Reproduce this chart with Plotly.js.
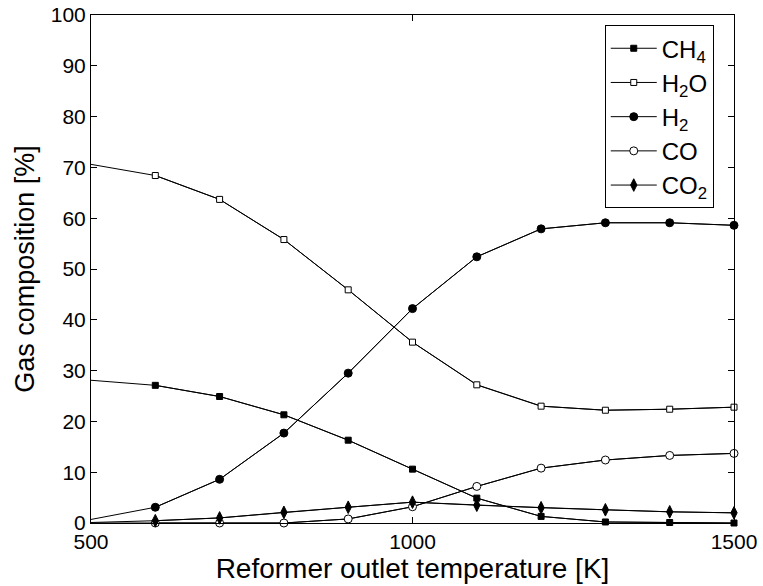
<!DOCTYPE html>
<html>
<head>
<meta charset="utf-8">
<script src="https://cdn.plot.ly/plotly-3.0.1.min.js"></script>
<style>html,body{margin:0;padding:0;background:#fff;}#chart{width:763px;height:586px;}</style>
</head>
<body>
<div id="chart"></div>
<script>
const temperature = [500, 600, 700, 800, 900, 1000, 1100, 1200, 1300, 1400, 1500];
const seriesNames = ['CH<sub>4</sub>', 'H<sub>2</sub>O', 'H<sub>2</sub>', 'CO', 'CO<sub>2</sub>'];
const ch4 = [28.1, 27.1, 24.9, 21.3, 16.3, 10.6, 4.9, 1.3, 0.2, 0.1, 0.0];
const h2o = [70.6, 68.4, 63.7, 55.8, 45.9, 35.6, 27.2, 23.0, 22.2, 22.4, 22.8];
const h2  = [0.7, 3.1, 8.6, 17.7, 29.5, 42.2, 52.4, 57.9, 59.1, 59.1, 58.6];
const co  = [0.0, 0.0, 0.0, 0.0, 0.8, 3.2, 7.2, 10.8, 12.4, 13.3, 13.7];
const co2 = [0.1, 0.45, 1.0, 2.1, 3.1, 4.1, 3.5, 3.0, 2.6, 2.2, 2.0];
const yTicks = [0, 10, 20, 30, 40, 50, 60, 70, 80, 90, 100];
const xTicks = [500, 1000, 1500];

const seriesValues = [ch4, h2o, h2, co, co2];
const markerStyles = [
  {symbol: 'square', size: 6, color: '#000', line: {color: '#000', width: 1}},
  {symbol: 'square', size: 6, color: '#fff', line: {color: '#000', width: 1}},
  {symbol: 'circle', size: 8, color: '#000', line: {color: '#000', width: 1}},
  {symbol: 'circle', size: 8, color: '#fff', line: {color: '#000', width: 1}},
  {symbol: 'diamond-tall', size: 9, color: '#000', line: {color: '#000', width: 1}}
];

const traces = [];
seriesValues.forEach(function (vals, i) {
  traces.push({
    x: temperature, y: vals, mode: 'lines', type: 'scatter',
    line: {color: '#000', width: 1}, showlegend: false, hoverinfo: 'skip', cliponaxis: false
  });
});
seriesValues.forEach(function (vals, i) {
  traces.push({
    x: temperature.slice(1), y: vals.slice(1), mode: 'lines+markers', type: 'scatter',
    name: seriesNames[i],
    line: {color: '#000', width: 1}, marker: markerStyles[i], cliponaxis: false
  });
});

const font = {family: '"Liberation Sans", Arial, Helvetica, sans-serif', color: '#000'};
const layout = {
  width: 763, height: 586,
  margin: {l: 91, r: 29, t: 15, b: 63},
  paper_bgcolor: '#fff', plot_bgcolor: '#fff',
  font: Object.assign({size: 21}, font),
  showlegend: true,
  legend: {
    x: 0.799, y: 0.98, xanchor: 'left', yanchor: 'top',
    bgcolor: '#fff', bordercolor: '#000', borderwidth: 1,
    font: Object.assign({size: 24}, font),
    itemwidth: 46,
    tracegroupgap: 0
  },
  xaxis: {
    range: [500, 1500], tickvals: xTicks, ticktext: xTicks.map(String),
    ticks: 'inside', ticklen: 6, tickcolor: '#000', tickwidth: 1,
    showline: true, linecolor: '#000', linewidth: 1, mirror: 'ticks',
    showgrid: false, zeroline: false,
    tickfont: Object.assign({size: 21}, font),
    title: {text: 'Reformer outlet temperature [K]', font: Object.assign({size: 28}, font), standoff: 0}
  },
  yaxis: {
    range: [0, 100], tickvals: yTicks, ticktext: yTicks.map(String),
    ticks: 'inside', ticklen: 6, tickcolor: '#000', tickwidth: 1,
    showline: true, linecolor: '#000', linewidth: 1, mirror: 'ticks',
    showgrid: false, zeroline: false,
    tickfont: Object.assign({size: 21}, font),
    title: {text: 'Gas composition [%]', font: Object.assign({size: 27}, font), standoff: 8}
  }
};

Plotly.newPlot('chart', traces, layout, {displayModeBar: false, staticPlot: true});
</script>
</body>
</html>
